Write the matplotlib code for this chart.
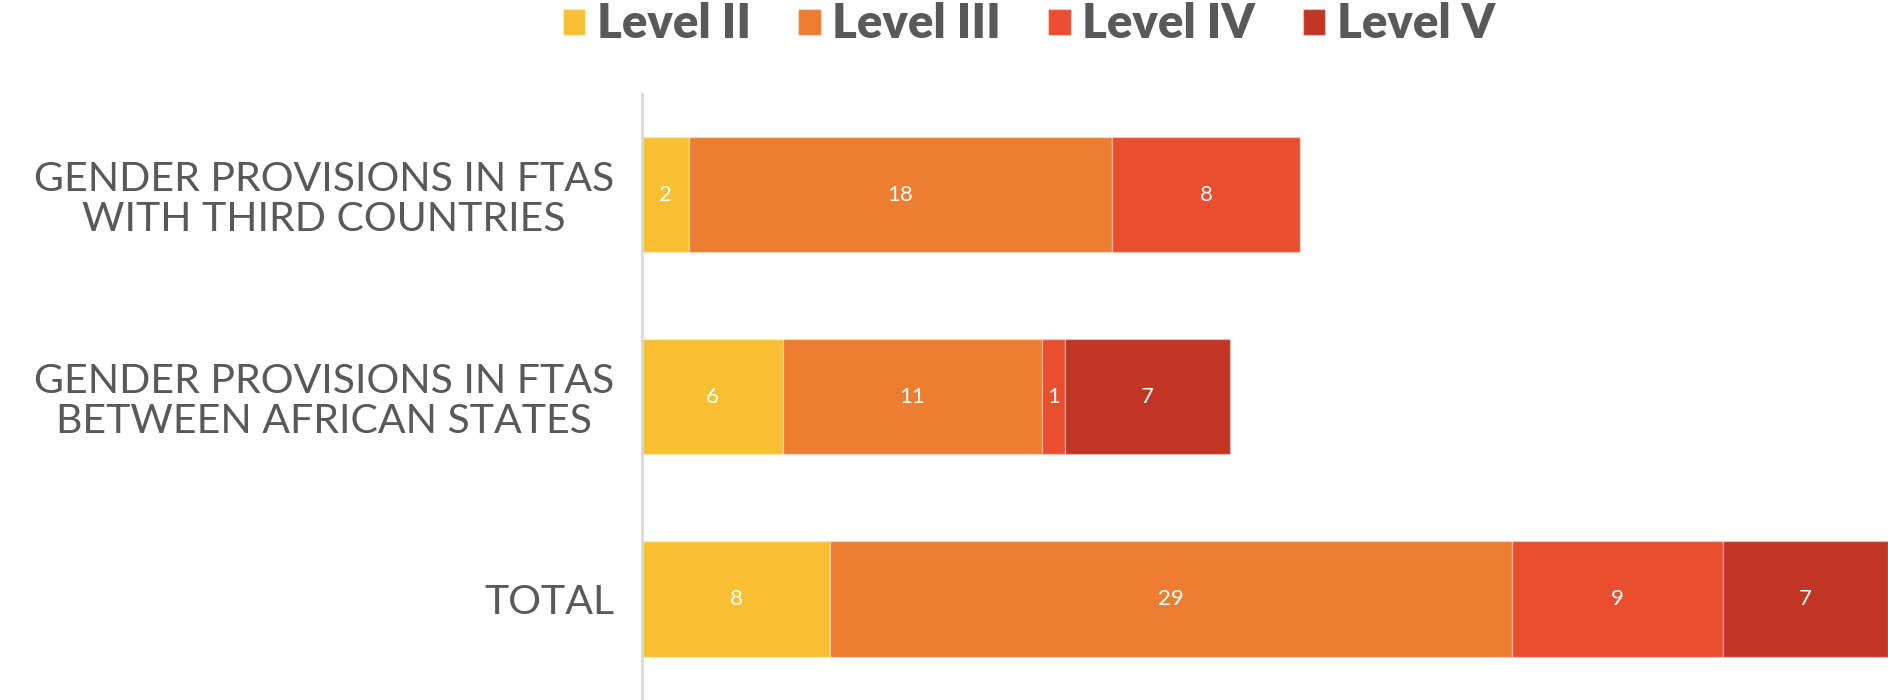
# Stacked horizontal bars: gender provisions in FTAs by level
import matplotlib.pyplot as plt
import numpy as np

categories = ['GENDER PROVISIONS IN FTAS\nWITH THIRD COUNTRIES',
              'GENDER PROVISIONS IN FTAS\nBETWEEN AFRICAN STATES',
              'TOTAL']
levels = ['Level II', 'Level III', 'Level IV', 'Level V']
level_ii = [2, 6, 8]
level_iii = [18, 11, 29]
level_iv = [8, 1, 9]
level_v = [0, 7, 7]
colors = ['#F9BF32', '#ED7D31', '#E94E2E', '#C13524']

plt.rcParams['font.family'] = ['Lato', 'DejaVu Sans']

fig = plt.figure(figsize=(18.88, 7), dpi=100)
ax = fig.add_axes([0.34, 0.0, 0.66, 0.866])

y = np.arange(len(categories))
left = np.zeros(len(categories))
for name, vals, col in zip(levels, [level_ii, level_iii, level_iv, level_v], colors):
    vals = np.array(vals, dtype=float)
    bars = ax.barh(y, vals, left=left, height=0.57, color=col, label=name,
                   edgecolor=(1, 1, 1, 0.35), linewidth=1)
    for b, v in zip(bars, vals):
        if v > 0:
            ax.text(b.get_x() + b.get_width() / 2, b.get_y() + b.get_height() / 2,
                    f'{int(v)}', ha='center', va='center', color='white', fontsize=16)
    left += vals

ax.set_xlim(0, 53)
ax.set_ylim(2.5, -0.5)
ax.set_yticks(y)
ax.set_yticklabels(categories, fontsize=29.5, color='#595959', linespacing=1.08)
for lbl in ax.get_yticklabels():
    lbl.set_multialignment('center')
ax.tick_params(axis='y', length=0, pad=20)
ax.set_xticks([])
for s in ['top', 'right', 'bottom']:
    ax.spines[s].set_visible(False)
ax.spines['left'].set_color('#D9D9D9')
ax.spines['left'].set_linewidth(2)

leg = fig.legend(loc='center', bbox_to_anchor=(0.545, 0.965), ncol=4, frameon=False,
                 prop={'size': 34, 'weight': 'heavy'}, labelcolor='#595959',
                 handlelength=0.47, handleheight=0.47, handletextpad=0.25,
                 columnspacing=1.0)

fig.savefig('out.png', dpi=100)
